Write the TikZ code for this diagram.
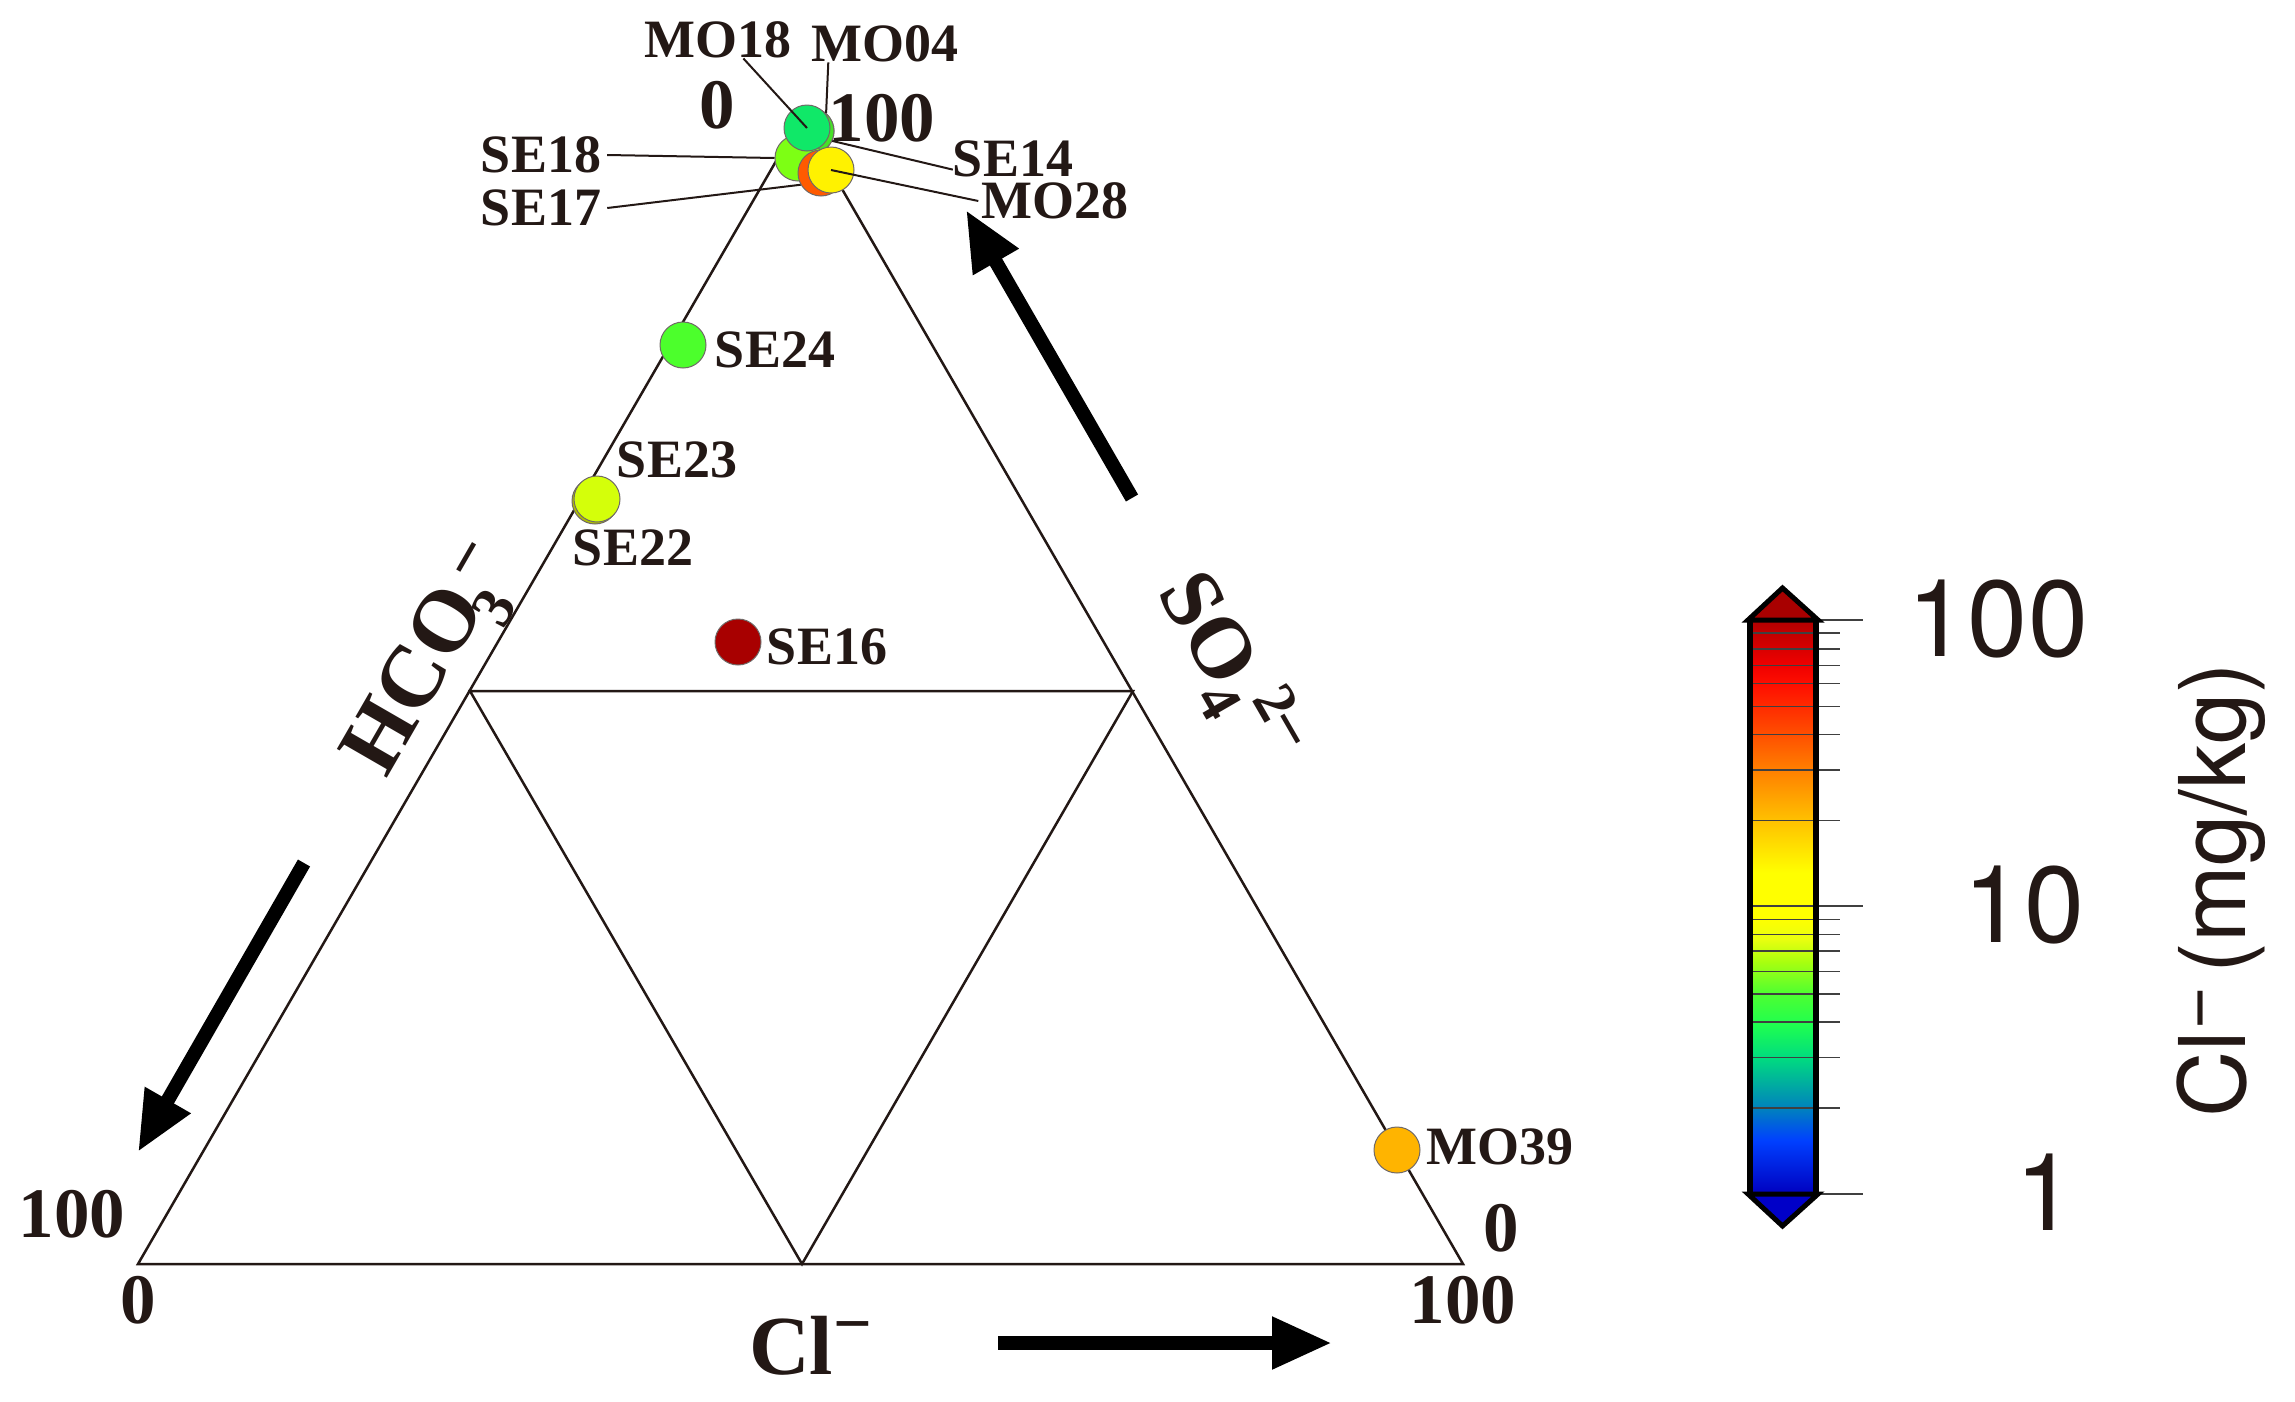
\documentclass[tikz,border=0pt]{standalone}
\usepackage{fontspec}
\setmainfont{Liberation Serif}
\newfontfamily\hvfont{TeX Gyre Heros}
\usetikzlibrary{arrows.meta}
\newcommand{\fsz}[1]{\fontsize{#1}{#1}\selectfont}
\definecolor{ink}{HTML}{231815}
\definecolor{cMOfour}{RGB}{70,225,40}
\definecolor{cSEeighteen}{RGB}{125,255,20}
\definecolor{cSEseventeen}{RGB}{255,90,0}
\definecolor{cMOeighteen}{RGB}{16,232,104}
\definecolor{cSEtwentyfour}{RGB}{76,255,44}
\definecolor{cSEtwentytwo}{RGB}{176,192,0}
\definecolor{cSEtwentythree}{RGB}{212,255,10}
\definecolor{cSEsixteen}{RGB}{168,0,0}
\definecolor{cMOthirtynine}{RGB}{255,180,0}
\definecolor{cBlueEnd}{RGB}{0,0,200}
\pgfdeclareverticalshading{clbar}{100bp}{
 rgb(0bp)=(0,0,.75);
 rgb(25bp)=(0,0,.75);
 rgb(29.67bp)=(0,.25,1);
 rgb(32.39bp)=(0,.5,.75);
 rgb(36.86bp)=(0,.86,.5);
 rgb(39.77bp)=(.12,1,.31);
 rgb(42.5bp)=(.31,1,.19);
 rgb(45.22bp)=(.66,1,.06);
 rgb(47.16bp)=(.91,1,.06);
 rgb(49bp)=(1,1,0);
 rgb(52.99bp)=(1,1,0);
 rgb(57.47bp)=(1,.76,0);
 rgb(61.94bp)=(1,.5,0);
 rgb(65.05bp)=(1,.31,0);
 rgb(69.32bp)=(1,.06,0);
 rgb(71.07bp)=(.94,0,0);
 rgb(75bp)=(.69,0,0);
 rgb(100bp)=(.69,0,0)}
\tikzset{
 edge/.style={draw=ink,line width=2.5pt,line join=miter},
 leader/.style={draw=ink,line width=2pt},
 lab/.style={inner sep=0pt,text=ink,font=\bfseries\fsz{54}},
 num/.style={inner sep=0pt,text=ink,font=\bfseries\fsz{71}},
 pt/.style={circle,inner sep=0pt,minimum size=46pt,draw=ink!65,line width=1pt},
 bigarrow/.style={line width=14pt,black,-{Triangle[length=60pt,width=49pt]}},
 scalelab/.style={inner sep=0pt,text=ink,font=\hvfont\fsz{108}},
 tick/.style={draw=black!75,line width=1.5pt}
}
\begin{document}
\begin{tikzpicture}[x=1pt,y=-1pt]
\useasboundingbox (0,0) rectangle (2295,1401);
% diagram frame
\coordinate (L) at (138,1264);
\coordinate (R) at (1463,1264);
\coordinate (A) at (801,118);
\coordinate (ML) at (470,691);
\coordinate (MR) at (1133,691);
\coordinate (MB) at (802,1264);
\draw[edge] (L) -- (R) -- (A) -- cycle;
\draw[edge] (ML) -- (MR) -- (MB) -- cycle;
% axis numbers
\node[num] (n0top) at (717,105) {0};
\node[num] (n100top) at (882,118) {100};
\node[num] (n100left) at (72,1214) {100};
\node[num] (n0left) at (138,1300) {0};
\node[num] (n0right) at (1501,1228) {0};
\node[num] (n100right) at (1463,1300) {100};
% axis titles
\node[anchor=base west,rotate=60,inner sep=0pt,text=ink] (hco) at (386,780)
 {\bfseries\fsz{88}HCO\hspace{-12pt}\raisebox{-27pt}{\fsz{60}3}\hspace{-5pt}\raisebox{19pt}{\fsz{68}−}};
\node[anchor=base west,rotate=-60,inner sep=0pt,text=ink] (so) at (1156,592)
 {\bfseries\fsz{86}SO\hspace{-4pt}\raisebox{-20pt}{\fsz{60}4}\raisebox{29pt}{\fsz{60}2}\hspace{-4pt}\raisebox{26pt}{\fsz{68}−}};
\node[anchor=base west,inner sep=0pt,text=ink] (cl) at (749,1374)
 {\bfseries\fsz{84}Cl\raisebox{28pt}{\fsz{68}−}};
% arrows
\coordinate (aS) at (1132,498); \coordinate (aE) at (966,210);
\coordinate (bS) at (304,863);  \coordinate (bE) at (138,1152);
\coordinate (cS) at (998,1343); \coordinate (cE) at (1332,1343);
\draw[bigarrow] (aS) -- (aE);
\draw[bigarrow] (bS) -- (bE);
\draw[bigarrow] (cS) -- (cE);
% sample points
\node[pt,fill=cMOfour] (SE14) at (811,131) {};
\node[pt,fill=cMOfour] (MO04) at (811,131) {};
\node[lab] (lSE14) at (1013,159) {SE14};
\node[lab] (lMO04) at (885,44) {MO04};
\draw[leader] (lSE14.190) -- (SE14.-25);
\draw[leader] (lMO04.198) -- (MO04.50);
\node[pt,fill=cSEeighteen] (SE18) at (798,158) {};
\node[lab] (lSE18) at (541,155) {SE18};
\draw[leader] ([xshift=6pt]lSE18.east) -- (SE18.west);
\node[lab] (lSE17) at (541,208) {SE17};
\node[pt,fill=cSEseventeen] (SE17) at (821,173) {};
\draw[leader] ([xshift=6pt]lSE17.east) -- (SE17.210);
\node[pt,fill=cMOeighteen] (MO18) at (807,128) {};
\node[lab] (lMO18) at (718,40) {MO18};
\draw[leader] (lMO18.-36) -- (MO18.center);
\node[pt,fill=yellow] (MO28) at (831,170) {};
\node[lab] (lMO28) at (1055,201) {MO28};
\draw[leader] ([xshift=-3pt]lMO28.west) -- (MO28.center);
\node[pt,fill=cSEtwentyfour] (SE24) at (683,345) {};
\node[lab] (lSE24) at (775,350) {SE24};
\node[pt,fill=cSEtwentytwo] (SE22) at (595,501) {};
\node[pt,fill=cSEtwentythree] (SE23) at (597,499) {};
\node[lab] (lSE23) at (677,460) {SE23};
\node[lab] (lSE22) at (633,548) {SE22};
\node[pt,fill=cSEsixteen] (SE16) at (738,642) {};
\node[lab] (lSE16) at (827,647) {SE16};
\node[pt,fill=cMOthirtynine] (MO39) at (1397,1150) {};
\node[lab] (lMO39) at (1500,1147) {MO39};
% colour scale
\fill[cSEsixteen] (1749,620) -- (1782.5,589) -- (1817,620) -- cycle;
\fill[cBlueEnd] (1749,1194) -- (1782.5,1225) -- (1817,1194) -- cycle;
\shade[shading=clbar] (1750,620) rectangle (1816,1194);
\foreach \yy in {633.2,648.8,665.4,683.7,706.4,734.6,769.8,820.3,919.4,934.6,951.1,971.6,993.9,1022,1057.3,1107.8}
 \draw[tick] (1752,\yy) -- (1840,\yy);
\foreach \yy in {620,906,1194}
 \draw[tick] (1752,\yy) -- (1862.5,\yy);
\draw[black,line width=6pt,line join=miter] (1750,620) -- (1750,1194);
\draw[black,line width=6pt,line join=miter] (1816,620) -- (1816,1194);
\draw[black,line width=5pt,line join=miter] (1748,620) -- (1782.5,588) -- (1818,620) -- cycle;
\draw[black,line width=5pt,line join=miter] (1748,1194) -- (1782.5,1226) -- (1818,1194) -- cycle;
\node[scalelab] (s100) at (1998,619) {100};
\node[scalelab] (s10) at (2024,905) {10};
\node[scalelab] (s1) at (2046,1192) {1};
\node[anchor=base west,rotate=90,inner sep=0pt,text=ink] (unit) at (2245,1118)
 {\hvfont\fsz{92}Cl\raisebox{26pt}{\fsz{76}−}\hspace{13pt}(mg/kg)};
\end{tikzpicture}
\end{document}
